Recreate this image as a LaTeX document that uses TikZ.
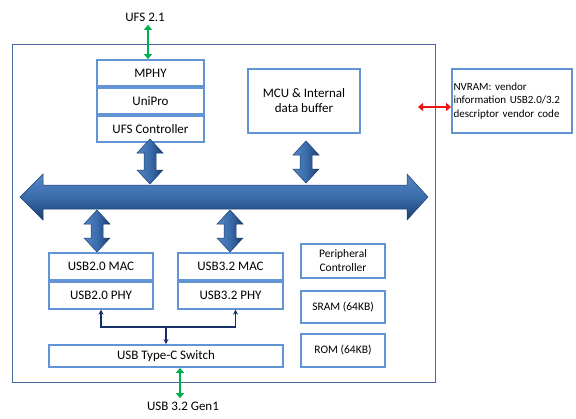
\documentclass[tikz,border=0pt]{standalone}
\usepackage{fontspec}
\setmainfont{Carlito}
\usetikzlibrary{positioning,arrows.meta}

\definecolor{boxblue}{RGB}{98,148,214}
\definecolor{framblue}{RGB}{70,106,160}
\definecolor{busdark}{RGB}{28,62,112}
\definecolor{busmid}{RGB}{58,108,172}
\definecolor{buslight}{RGB}{84,134,196}
\definecolor{linknavy}{RGB}{24,48,104}
\definecolor{linkgreen}{RGB}{0,176,80}
\definecolor{linkred}{RGB}{238,20,20}

% vertical double arrow between a block and the bus
\newcommand{\vdarrow}[3]{%
  \path[vbus] (#1,#2) -- ({#1+13},{#2+14}) -- ({#1+6},{#2+14})
    -- ({#1+6},{#3-14}) -- ({#1+13},{#3-14}) -- (#1,#3)
    -- ({#1-13},{#3-14}) -- ({#1-6},{#3-14}) -- ({#1-6},{#2+14})
    -- ({#1-13},{#2+14}) -- cycle;}

\begin{document}
\begin{tikzpicture}[
  x=1pt, y=-1pt,
  block/.style = {draw=boxblue, line width=1.8pt, fill=white,
                  font=\fontsize{13}{15}\selectfont, align=center, inner sep=1pt},
  smallblock/.style = {block, font=\fontsize{11.5}{14}\selectfont},
  vbus/.style  = {draw=busdark, line width=0.5pt, left color=buslight,
                  right color=busdark, middle color=busmid},
  hbus/.style  = {draw=busdark, line width=0.5pt, top color=buslight,
                  bottom color=busdark, middle color=busmid},
  label/.style = {font=\fontsize{13}{15}\selectfont},
  greenlink/.style = {{Triangle[length=5pt,width=8pt]}-{Triangle[length=5pt,width=8pt]},
                      line width=2.2pt, linkgreen},
  navylink/.style  = {line width=1.4pt, linknavy},
  >={Stealth[length=5pt,width=5pt]}
]
  \useasboundingbox (0,0) rectangle (576,418);

  % Moldura do chip
  \draw[framblue, line width=1pt] (12,44) rectangle (435,382);

  % Pilha UFS
  \node[block, minimum width=107pt, minimum height=26pt] (mphy) at (150.5,73) {MPHY};
  \node[block, minimum width=107pt, minimum height=26pt, below=0pt of mphy] (unipro) {UniPro};
  \node[block, minimum width=107pt, minimum height=26pt, below=0pt of unipro] (ufsctrl) {UFS Controller};

  \node[block, minimum width=112pt, minimum height=64pt] (mcu) at (304,101) {MCU \& Internal\\data buffer};
  \node[block, minimum width=120pt, minimum height=64pt, align=left,
        font=\fontsize{11}{13.5}\selectfont, text width=117pt, inner sep=1.5pt] (nvram) at (512,101)
        {NVRAM: vendor\\information USB2.0/3.2\\descriptor vendor code};

  % Barramento
  \path[hbus] (20,197) -- (43,174) -- (43,185) -- (407,185) -- (407,174)
    -- (428,197) -- (407,220) -- (407,209) -- (43,209) -- (43,220) -- cycle;
  \vdarrow{150}{139}{184}
  \vdarrow{306}{141}{183}
  \vdarrow{97}{210}{252}
  \vdarrow{230}{210}{252}

  % Blocos USB
  \node[block, minimum width=104pt, minimum height=27pt] (mac2) at (101,266.5) {USB2.0 MAC};
  \node[block, minimum width=104pt, minimum height=27pt, below=0pt of mac2] (phy2) {USB2.0 PHY};
  \node[block, minimum width=105pt, minimum height=27pt] (mac3) at (230.5,266.5) {USB3.2 MAC};
  \node[block, minimum width=105pt, minimum height=27pt, below=0pt of mac3] (phy3) {USB3.2 PHY};
  \node[block, minimum width=234pt, minimum height=22pt] (switch) at (166,356) {USB Type-C Switch};

  \node[smallblock, minimum width=84pt, minimum height=34pt] (periph) at (343,261) {Peripheral\\Controller};
  \node[smallblock, minimum width=84pt, minimum height=32pt] (sram) at (343,307) {SRAM (64KB)};
  \node[smallblock, minimum width=84pt, minimum height=33pt] (rom) at (343,350.5) {ROM (64KB)};

  % Interfaces externas
  \node[label] (ufsport) at (145,17) {UFS 2.1};
  \node[label] (usbport) at (183,406) {USB 3.2 Gen1};
  \draw[greenlink] ([xshift=3pt]ufsport.south) -- ([xshift=-2.5pt]mphy.north);
  \draw[greenlink] ([xshift=14pt]switch.south) -- ([xshift=-3pt]usbport.north);

  \coordinate (nvlink) at (418,107);
  \draw[{Triangle[length=5pt,width=8pt]}-{Triangle[length=5pt,width=8pt]},
        line width=1.8pt, linkred] (nvlink) -- (nvram.west |- nvlink);

  % Ligacao PHY -- switch
  \coordinate (tee) at (switch.north |- 0,327);
  \draw[navylink, <->] (phy2.south) |- (tee) -| ([xshift=5pt]phy3.south);
  \draw[navylink, ->] (tee) -- (switch.north);
\end{tikzpicture}
\end{document}
